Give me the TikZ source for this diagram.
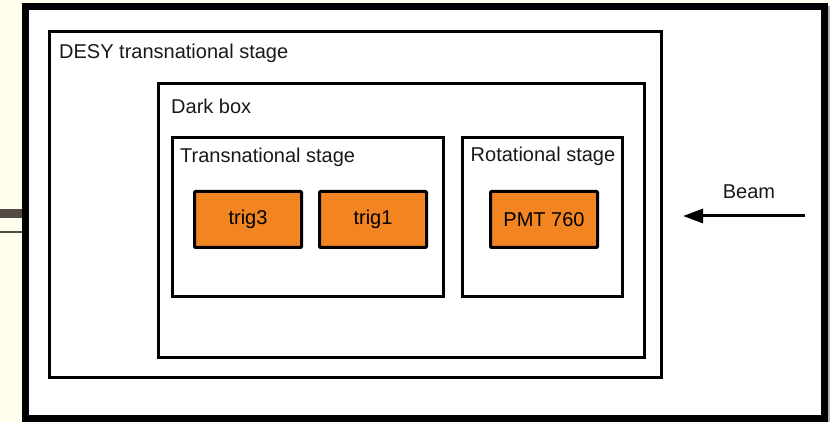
\documentclass[tikz,border=0pt]{standalone}
\usepackage{fontspec}
\setmainfont{Liberation Sans}
\usetikzlibrary{arrows.meta}
\definecolor{cream}{RGB}{255,253,236}
\definecolor{orng}{RGB}{242,132,34}
\definecolor{bar}{RGB}{82,74,68}
\begin{document}
\begin{tikzpicture}[x=1pt,y=-1pt,
  box/.style={draw=black,line width=3pt,fill=white,inner sep=0pt},
  obox/.style={draw=black,line width=3pt,fill=orng,inner sep=0pt,rounded corners=1pt,
    font=\fontsize{20}{24}\selectfont},
  lbl/.style={inner sep=0pt,anchor=base west,font=\fontsize{20}{24}\selectfont,text=black!90}]
\useasboundingbox (0,0) rectangle (830,422);
\fill[cream] (0,0) rectangle (830,422);
\fill[bar] (0,209) rectangle (22,218);
\fill[bar] (0,231.5) rectangle (22,232.8);
% outer frame
\fill[white] (25.5,6.5) rectangle (824.5,418.5);
\fill[gray!60] (827,6) rectangle (830,422);
\node[draw=black,line width=7pt,inner sep=0pt,minimum width=799pt,minimum height=412pt] (frame) at (425,212.5) {};
% boxes
\node[box,minimum width=612pt,minimum height=346pt] (desy) at (355.5,204.5) {};
\node[box,minimum width=486pt,minimum height=273.5pt] (dark) at (401.5,220.25) {};
\node[box,minimum width=271pt,minimum height=159pt] (trans) at (307.5,217) {};
\node[box,minimum width=160pt,minimum height=159pt] (rot) at (542.5,217) {};
\node[obox,minimum width=107pt,minimum height=56pt] (trig3) at (248,219.5) {trig3};
\node[obox,minimum width=107pt,minimum height=56pt] (trig1) at (373,219.5) {trig1};
\node[obox,minimum width=107pt,minimum height=56pt] (pmt) at (544,219.5) {PMT 760};
% labels
\node[lbl] (ldesy) at (59,58.5) {DESY transnational stage};
\node[lbl] (ldark) at (171,113.5) {Dark box};
\node[lbl] (ltrans) at (180,162.5) {Transnational stage};
\node[lbl] (lrot) at (470.5,162) {Rotational stage};
\node[lbl,anchor=base] (lbeam) at (749,198.5) {Beam};
% beam arrow
\coordinate (bs) at (805,216);
\coordinate (be) at (683,216);
\draw[line width=3pt,-{Triangle[length=20pt,width=14pt]}] (bs) -- (be);
\end{tikzpicture}
\end{document}
